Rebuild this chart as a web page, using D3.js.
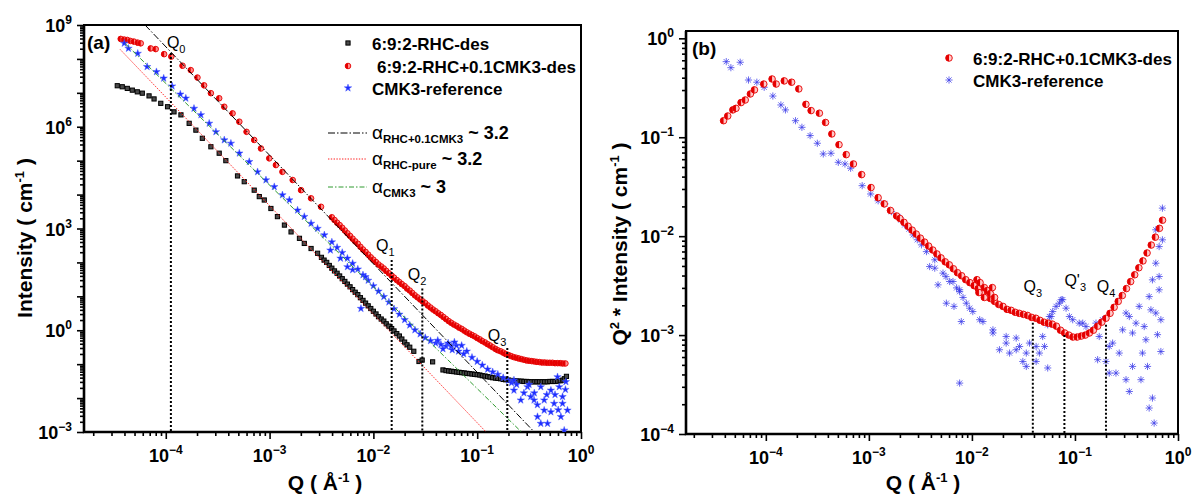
<!DOCTYPE html>
<html>
<head>
<meta charset="utf-8">
<script src="https://cdn.jsdelivr.net/npm/d3@7"></script>
<style>
  body { margin: 0; background: #fff; }
  svg { display: block; }
  text { font-family: "Liberation Sans", Arial, Helvetica, sans-serif; }
</style>
</head>
<body>
<script>
// ---------------- data ----------------
// (a) SANS/USANS intensity, pairs of [Q (1/Å), I (1/cm)]
const rhcDes = [
  [3.41e-5,1.62e7],[3.81e-5,1.51e7],[4.26e-5,1.35e7],[4.76e-5,1.20e7],[5.32e-5,1.07e7],[5.94e-5,9.77e6],
  [6.90e-5,8.13e6],[7.71e-5,6.61e6],[8.95e-5,4.90e6],[1.04e-4,3.89e6],[1.20e-4,2.75e6],[1.40e-4,2.24e6],
  [1.68e-4,1.26e6],[1.95e-4,7.94e5],[2.25e-4,4.57e5],[2.72e-4,2.57e5],[3.27e-4,1.66e5],[3.79e-4,1.0e5],
  [4.91e-4,3.55e4],[5.70e-4,2.40e4],[7.11e-4,1.35e4],[7.96e-4,8.71e3],[8.89e-4,6.92e3],[1.03e-3,3.89e3],
  [1.19e-3,2.24e3],[1.39e-3,1.26e3],[1.61e-3,794],[1.94e-3,513],[2.16e-3,363],[2.51e-3,257],[2.90e-3,186],
  [3.16e-3,141],[3.35e-3,117],[3.55e-3,100],[3.76e-3,81.3],[3.98e-3,67.6],[4.22e-3,56.2],[4.47e-3,47.9],
  [4.73e-3,39.8],[5.01e-3,33.1],[5.31e-3,27.5],[5.62e-3,22.9],[5.96e-3,19.1],[6.31e-3,15.8],[6.68e-3,13.2],
  [7.08e-3,11.2],[7.50e-3,9.12],[7.94e-3,7.59],[8.41e-3,6.31],[8.91e-3,5.25],[9.44e-3,4.37],[1.00e-2,3.63],
  [1.06e-2,3.02],[1.12e-2,2.51],[1.19e-2,2.14],[1.26e-2,1.86],[1.33e-2,1.55],[1.41e-2,1.32],[1.50e-2,1.12],
  [1.58e-2,0.955],[1.68e-2,0.794],[1.78e-2,0.676],[1.88e-2,0.550],[2.00e-2,0.447],[2.11e-2,0.372],
  [2.24e-2,0.316],[2.45e-2,0.240],[2.75e-2,0.120],[2.95e-2,0.132],[3.72e-2,0.117],
  [4.68e-2,0.0676],[5.01e-2,0.0646],[5.31e-2,0.0631],[5.62e-2,0.0617],[5.96e-2,0.0603],[6.31e-2,0.0589],
  [6.68e-2,0.0575],[7.08e-2,0.0562],[7.50e-2,0.0550],[7.94e-2,0.0537],[8.41e-2,0.0525],[8.91e-2,0.0513],
  [9.44e-2,0.0501],[0.100,0.0490],[0.106,0.0479],[0.112,0.0457],[0.119,0.0447],[0.126,0.0427],[0.133,0.0417],
  [0.141,0.0398],[0.150,0.0389],[0.158,0.0380],[0.168,0.0372],[0.178,0.0355],[0.188,0.0347],[0.200,0.0339],
  [0.211,0.0331],[0.224,0.0324],[0.237,0.0324],[0.251,0.0316],[0.266,0.0316],[0.282,0.0309],[0.299,0.0309],
  [0.316,0.0302],[0.335,0.0302],[0.355,0.0302],[0.376,0.0302],[0.398,0.0302],[0.422,0.0302],[0.447,0.0302],
  [0.473,0.0302],[0.501,0.0309],[0.531,0.0309],[0.562,0.0309],[0.596,0.0316],[0.631,0.0324],[0.668,0.0339],
  [0.692,0.0372],[0.724,0.0437]
];
const rhcCmk = [
  [3.68e-5,3.89e8],[3.98e-5,3.72e8],[4.26e-5,3.63e8],[4.57e-5,3.39e8],[4.94e-5,3.24e8],[5.37e-5,3.02e8],
  [5.74e-5,2.88e8],[7.16e-5,2.04e8],[8.00e-5,1.95e8],[9.64e-5,1.38e8],[1.13e-4,1.17e8],[1.45e-4,6.31e7],
  [1.74e-4,4.68e7],[2.02e-4,2.82e7],[2.34e-4,1.66e7],[2.72e-4,9.77e6],[3.27e-4,6.92e6],[3.66e-4,3.89e6],
  [4.40e-4,2.48e6],[5.11e-4,1.41e6],[6.00e-4,7.08e5],[7.11e-4,4.07e5],[8.26e-4,2.29e5],[9.93e-4,1.17e5],
  [1.15e-3,7.41e4],[1.33e-3,4.68e4],[1.67e-3,2.69e4],[2.01e-3,1.35e4],[2.51e-3,7.76e3],[3.13e-3,4.37e3],
  [3.98e-3,2.14e3],[4.22e-3,1.78e3],[4.47e-3,1.48e3],[4.73e-3,1.26e3],[5.01e-3,1.05e3],[5.31e-3,871],
  [5.62e-3,724],[5.96e-3,603],[6.31e-3,501],[6.68e-3,417],[7.08e-3,355],[7.50e-3,288],[7.94e-3,240],
  [8.41e-3,204],[8.91e-3,170],[9.44e-3,141],[1.00e-2,120],[1.06e-2,102],[1.12e-2,87.1],[1.19e-2,75.9],
  [1.26e-2,66.1],[1.33e-2,56.2],[1.41e-2,47.9],[1.50e-2,40.7],[1.58e-2,35.5],[1.68e-2,30.2],[1.78e-2,26.3],
  [1.88e-2,22.9],[2.00e-2,20.0],[2.11e-2,17.0],[2.24e-2,14.8],[2.37e-2,12.6],[2.51e-2,10.7],[2.66e-2,9.33],
  [2.82e-2,8.13],[2.99e-2,7.08],[3.16e-2,6.31],[3.35e-2,5.37],[3.55e-2,4.68],[3.76e-2,4.07],[3.98e-2,3.63],
  [4.22e-2,3.16],[4.47e-2,2.82],[4.73e-2,2.45],[5.01e-2,2.14],[5.31e-2,1.86],[5.62e-2,1.66],[5.96e-2,1.48],
  [6.31e-2,1.35],[6.68e-2,1.20],[7.08e-2,1.10],[7.50e-2,0.977],[7.94e-2,0.871],[8.41e-2,0.794],[8.91e-2,0.724],
  [9.44e-2,0.661],[0.100,0.589],[0.106,0.537],[0.112,0.479],[0.119,0.437],[0.126,0.389],[0.133,0.355],
  [0.141,0.316],[0.150,0.282],[0.158,0.257],[0.168,0.240],[0.178,0.219],[0.188,0.200],[0.200,0.186],
  [0.211,0.174],[0.224,0.162],[0.237,0.155],[0.251,0.148],[0.266,0.141],[0.282,0.135],[0.299,0.129],
  [0.316,0.126],[0.335,0.123],[0.355,0.120],[0.376,0.117],[0.398,0.115],[0.422,0.112],[0.447,0.112],
  [0.473,0.110],[0.501,0.110],[0.531,0.110],[0.562,0.107],[0.596,0.107],[0.631,0.107],[0.668,0.105],
  [0.708,0.105]
];
const cmkRef = [
  [3.98e-5,2.88e8],[4.37e-5,2.04e8],[5.37e-5,1.45e8],[6.61e-5,5.89e7],[8.13e-5,4.17e7],[9.55e-5,2.69e7],
  [1.15e-4,1.58e7],[1.38e-4,9.12e6],[1.56e-4,6.92e6],[1.87e-4,3.47e6],[2.18e-4,2.24e6],[2.62e-4,1.26e6],
  [3.04e-4,7.08e5],[3.66e-4,4.07e5],[4.24e-4,3.24e5],[5.11e-4,1.66e5],[6.37e-4,9.33e4],[7.66e-4,4.68e4],
  [9.23e-4,2.69e4],[1.11e-3,1.70e4],[1.33e-3,9.77e3],[1.55e-3,6.92e3],[1.86e-3,3.47e3],[2.16e-3,2.24e3],
  [2.51e-3,1.41e3],[2.90e-3,1.00e3],[3.37e-3,646],
  [3.98e-3,398],[4.47e-3,275],[5.01e-3,195],[5.62e-3,132],[6.31e-3,93.3],[7.08e-3,63.1],[7.94e-3,42.7],
  [8.91e-3,29.5],[1.00e-2,20.4],[1.12e-2,14.1],[1.26e-2,9.77],[1.41e-2,6.76],[1.58e-2,4.27],[1.78e-2,2.95],
  [2.00e-2,2.04],[2.24e-2,1.41],[2.51e-2,1.02],[2.82e-2,0.776],[3.16e-2,0.603],[3.55e-2,0.490],[3.98e-2,0.417],
  [4.47e-2,0.380],[5.01e-2,0.339],[5.62e-2,0.331],[6.31e-2,0.355],[7.08e-2,0.355],[7.94e-2,0.240],
  [8.91e-2,0.158],[0.100,0.120],[0.112,0.0933],[0.126,0.0708],[0.141,0.0589],[0.158,0.0501],[0.178,0.0398],
  [0.200,0.0331],
  [3.85e-3,229],[4.82e-3,132],[5.62e-3,74.1],[6.31e-3,60.3],[7.59e-3,4.37],[8.39e-3,37.6],
  [4.17e-2,0.501],[4.68e-2,0.282],[5.25e-2,0.417],[5.75e-2,0.263],[6.03e-2,0.447],[6.61e-2,0.240],[7.41e-2,0.200],
  [0.214,0.0282],[0.226,0.0170],[0.226,0.0339],[0.240,0.0251],[0.263,8.71e-3],[0.282,0.0141],[0.305,0.0214],
  [0.316,0.0251],[0.328,0.0110],[0.353,8.71e-3],[0.355,0.0141],[0.380,6.31e-3],[0.381,2.82e-3],[0.410,0.0214],
  [0.410,1.78e-3],[0.442,4.37e-3],[0.442,8.71e-3],[0.468,0.0126],[0.476,1.78e-3],[0.513,0.0170],[0.513,3.89e-3],
  [0.551,6.92e-3],[0.562,0.0126],[0.594,0.0422],[0.603,4.47e-3],[0.617,0.0214],[0.640,2.82e-3],[0.664,0.0110],
  [0.664,6.92e-3],[0.689,1.12e-3],[0.708,0.0178],[0.715,0.0302],[0.741,4.37e-3]
];

// power-law fits in (a): exponent, anchor point, Q range
const fitAlpha  = [3.2, 3.2, 3];
const fitQ0     = [6.31e-5, 3.63e-5, 4.07e-5];
const fitI0     = [1e9, 1.91e8, 2.82e8];
const fitQEnd   = [0.40, 0.13, 0.27];
const fitNames  = ["RHC+0.1CMK3", "RHC-pure", "CMK3"];
const fitColors = ["#000000", "#ff2020", "#2e9a2e"];

// characteristic Q positions in (a)
const qMarkA    = [1.12e-4, 0.015, 0.0296, 0.195];
const qMarkTopA = [1.5e8, 117, 17, 0.30];
const qMarkSubA = ["0", "1", "2", "3"];

// (b) Q²·I, pairs of [Q, Q²·I]
const q2RhcCmk = [
  [3.89e-5,0.147],[4.27e-5,0.164],[4.79e-5,0.189],[5.13e-5,0.196],[5.75e-5,0.224],[6.31e-5,0.238],
  [7.08e-5,0.274],[7.76e-5,0.301],[9.55e-5,0.345],[1.15e-4,0.388],[1.26e-4,0.345],[1.51e-4,0.371],
  [1.78e-4,0.360],[2.09e-4,0.308],[2.45e-4,0.215],[2.75e-4,0.186],[3.31e-4,0.175],[3.80e-4,0.141],
  [4.37e-4,0.108],[5.13e-4,0.0841],[6.03e-4,0.0667],[7.08e-4,0.0537],[8.51e-4,0.0419],[1.05e-3,0.0310],
  [1.23e-3,0.0245],[1.41e-3,0.0212],[1.62e-3,0.0182],[1.86e-3,0.0160],
  [2.00e-3,0.0151],[2.19e-3,0.0138],[2.40e-3,0.0126],[2.63e-3,0.0115],[2.88e-3,0.0105],[3.16e-3,9.55e-3],
  [3.47e-3,8.71e-3],[3.80e-3,7.94e-3],[4.17e-3,7.24e-3],[4.57e-3,6.61e-3],[5.01e-3,6.03e-3],[5.50e-3,5.50e-3],
  [6.03e-3,5.13e-3],[6.61e-3,4.68e-3],[7.24e-3,4.27e-3],[7.94e-3,3.98e-3],[8.71e-3,3.63e-3],[9.55e-3,3.39e-3],
  [1.05e-2,3.16e-3],[1.15e-2,2.95e-3],[1.26e-2,2.69e-3],[1.38e-2,2.45e-3],[1.51e-2,2.34e-3],[1.66e-2,2.19e-3],
  [1.82e-2,2.04e-3],[2.00e-2,1.95e-3],[2.19e-2,1.82e-3],[2.40e-2,1.78e-3],[2.63e-2,1.70e-3],[2.88e-2,1.66e-3],
  [3.16e-2,1.62e-3],[3.47e-2,1.58e-3],[3.80e-2,1.51e-3],[4.17e-2,1.48e-3],[4.57e-2,1.41e-3],[5.01e-2,1.35e-3],
  [5.50e-2,1.32e-3],[6.03e-2,1.29e-3],[6.61e-2,1.23e-3],[7.24e-2,1.12e-3],[7.94e-2,1.05e-3],[8.71e-2,1.00e-3],
  [9.55e-2,9.55e-4],[0.105,9.55e-4],[0.115,9.77e-4],[0.126,1.00e-3],[0.138,1.05e-3],[0.151,1.12e-3],
  [0.166,1.23e-3],[0.182,1.35e-3],[0.200,1.48e-3],[0.219,1.66e-3],[0.240,1.91e-3],[0.263,2.19e-3],
  [0.288,2.51e-3],[0.316,2.95e-3],[0.347,3.47e-3],[0.380,4.07e-3],[0.417,4.79e-3],[0.457,5.62e-3],
  [0.501,6.76e-3],[0.550,8.13e-3],[0.603,9.77e-3],[0.661,0.0120],[0.708,0.0145],
  [1.12e-2,3.63e-3],[1.20e-2,3.39e-3],[1.32e-2,3.02e-3],[1.41e-2,2.82e-3],[1.51e-2,2.63e-3],
  [1.58e-2,3.02e-3],[1.66e-2,2.40e-3],[1.17e-2,2.69e-3],[1.32e-2,2.40e-3]
];
const q2CmkRef = [
  [4.13e-5,0.581],[4.58e-5,0.505],[5.64e-5,0.573],[6.79e-5,0.379],[8.18e-5,0.360],[9.64e-5,0.320],
  [1.17e-4,0.261],[1.40e-4,0.212],[1.55e-4,0.189],[1.94e-4,0.147],[2.24e-4,0.126],[2.69e-4,0.104],
  [3.16e-4,0.0869],[3.61e-4,0.0678],[4.29e-4,0.0689],[5.05e-4,0.0558],[5.86e-4,0.0537],[6.65e-4,0.0486],
  [8.61e-4,0.0324],[1.04e-3,0.0267],[1.23e-3,0.0228],[1.43e-3,0.0212],[1.66e-3,0.0177],
  [1.92e-3,0.0158],[2.05e-3,0.0146],[2.23e-3,0.0130],[2.45e-3,0.0118],[2.69e-3,0.0103],[2.95e-3,9.2e-3],
  [3.24e-3,8.17e-3],[3.62e-3,6.98e-3],[3.89e-3,4.93e-3],[4.36e-3,5.77e-3],[4.36e-3,4.75e-3],[4.69e-3,3.22e-3],
  [5.24e-3,4.23e-3],[5.60e-3,3.90e-3],[5.65e-3,2.10e-3],[6.08e-3,3.48e-3],[6.55e-3,3.48e-3],[6.70e-3,1.95e-3],
  [7.10e-3,3.00e-3],[7.60e-3,2.87e-3],[7.60e-3,2.75e-3],[7.89e-3,1.37e-3],[8.20e-3,2.40e-3],[8.83e-3,2.10e-3],
  [9.51e-3,1.87e-3],[1.02e-2,1.73e-3],[1.19e-2,1.43e-3],[1.28e-2,1.37e-3],[1.60e-2,1.13e-3],[1.60e-2,1.05e-3],
  [1.85e-2,7.11e-4],[2.15e-2,9.68e-4],[2.15e-2,8.30e-4],[2.32e-2,6.58e-4],[2.69e-2,9.33e-4],[2.69e-2,7.11e-4],
  [2.90e-2,7.67e-4],[3.12e-2,5.41e-4],[3.37e-2,6.58e-4],[3.37e-2,4.82e-4],[3.62e-2,8.30e-4],[4.20e-2,7.67e-4],
  [4.20e-2,5.41e-4],[4.52e-2,6.58e-4],[4.86e-2,9.68e-4],[5.06e-2,7.67e-4],[5.44e-2,1.27e-3],[5.44e-2,4.65e-4],
  [5.65e-2,1.54e-3],[5.87e-2,1.54e-3],[6.08e-2,1.73e-3],[6.56e-2,1.95e-3],[7.06e-2,2.10e-3],[7.35e-2,2.28e-3],
  [7.60e-2,2.28e-3],[8.20e-2,1.87e-3],[8.83e-2,1.54e-3],[9.51e-2,1.43e-3],[0.110,1.32e-3],[0.119,1.32e-3],
  [0.128,1.22e-3],[0.148,1.13e-3],[0.160,1.32e-3],[0.166,5.64e-4],[0.172,9.68e-4],[0.185,1.43e-3],
  [0.200,5.41e-4],[0.215,7.67e-4],[0.215,4.13e-4],[0.232,8.30e-4],[0.250,4.13e-4],[0.269,6.58e-4],
  [0.290,1.13e-3],[0.313,1.67e-3],[0.313,3.54e-4],[0.337,1.54e-3],[0.337,2.69e-4],[0.362,1.05e-3],
  [0.362,4.82e-4],[0.391,1.32e-3],[0.420,1.95e-3],[0.437,3.54e-4],[0.452,6.58e-4],[0.470,1.22e-3],
  [0.488,8.97e-4],[0.506,4.82e-4],[0.525,2.45e-3],[0.525,1.83e-4],[0.546,1.80e-3],[0.565,3.62e-3],
  [0.565,2.31e-4],[0.587,1.29e-4],[0.609,5.33e-3],[0.609,0.0116],[0.609,1.67e-3],[0.632,1.01e-3],
  [0.656,7.85e-3],[0.656,2.87e-3],[0.656,3.91e-3],[0.682,6.82e-4],[0.682,1.43e-3],[0.706,0.0192],
  [0.706,9.18e-3],[7.60e-3,3.27e-4]
];

// characteristic Q positions in (b)
const qMarkB    = [0.039, 0.079, 0.2];
const qMarkTopB = [1.33e-3, 1.0e-3, 1.27e-3];
const qMarkSubB = ["3", "3", "4"];

// tick labels
const tickQ  = [1e-4, 1e-3, 1e-2, 1e-1, 1];
const tickIA = [1e-3, 1, 1e3, 1e6, 1e9];
const tickIB = [1e-4, 1e-3, 1e-2, 1e-1, 1];

const namesA = ["6:9:2-RHC-des", "6:9:2-RHC+0.1CMK3-des", "CMK3-reference"];
const namesB = ["6:9:2-RHC+0.1CMK3-des", "CMK3-reference"];

// ---------------- layout ----------------
const W = 1194, H = 496;
const svg = d3.select("body").append("svg").attr("width", W).attr("height", H);
svg.append("rect").attr("width", W).attr("height", H).attr("fill", "#fff");

const PA = {l: 84, r: 581, t: 25, b: 432};
const PB = {l: 686, r: 1178, t: 31, b: 434};

const xA = d3.scaleLog().domain([1.63e-5, 1]).range([PA.l, PA.r]);
const yA = d3.scaleLog().domain([1e-3, 1e9]).range([PA.b, PA.t]);
const xB = d3.scaleLog().domain([1.68e-5, 1]).range([PB.l, PB.r]);
const yB = d3.scaleLog().domain([1e-4, 1.186]).range([PB.b, PB.t]);

const defs = svg.append("defs");
function clipFor(id, P) {
  defs.append("clipPath").attr("id", id).append("rect")
    .attr("x", P.l).attr("y", P.t).attr("width", P.r - P.l).attr("height", P.b - P.t);
}
clipFor("clipA", PA);
clipFor("clipB", PB);

// ---------------- axes ----------------
function minorTicks(dom) {
  const out = [];
  for (let e = Math.floor(Math.log10(dom[0])); e < Math.ceil(Math.log10(dom[1])); e++)
    for (let k = 2; k <= 9; k++) {
      const v = k * Math.pow(10, e);
      if (v > dom[0] * 1.0001 && v < dom[1] * 0.9999) out.push(v);
    }
  return out;
}
function decadeTicks(dom) {
  const out = [];
  for (let e = Math.ceil(Math.log10(dom[0]) - 1e-9); e <= Math.floor(Math.log10(dom[1]) + 1e-9); e++)
    out.push(Math.pow(10, e));
  return out;
}
function styleAxis(g) {
  g.select(".domain").remove();
  g.selectAll("line").attr("stroke", "#000").attr("stroke-width", 1.6);
}
function powText(sel, v, subSize) {
  const e = Math.round(Math.log10(v));
  sel.append("tspan").text("10");
  sel.append("tspan").attr("dy", -8).attr("font-size", subSize)
    .text(e < 0 ? "\u2212" + (-e) : String(e));
}

function drawAxes(P, x, y, yLabels) {
  const g = svg.append("g");
  g.append("g").attr("transform", `translate(0,${P.b})`)
    .call(d3.axisBottom(x).tickValues(minorTicks(x.domain())).tickSize(4).tickFormat(""))
    .call(styleAxis);
  g.append("g").attr("transform", `translate(0,${P.b})`)
    .call(d3.axisBottom(x).tickValues(decadeTicks(x.domain())).tickSize(7).tickFormat(""))
    .call(styleAxis);
  g.append("g").attr("transform", `translate(${P.l},0)`)
    .call(d3.axisLeft(y).tickValues(minorTicks(y.domain())).tickSize(4).tickFormat(""))
    .call(styleAxis);
  g.append("g").attr("transform", `translate(${P.l},0)`)
    .call(d3.axisLeft(y).tickValues(decadeTicks(y.domain())).tickSize(7).tickFormat(""))
    .call(styleAxis);

  // frame
  g.append("rect").attr("x", P.l).attr("y", P.t).attr("width", P.r - P.l).attr("height", P.b - P.t)
    .attr("fill", "none").attr("stroke", "#000").attr("stroke-width", 2);
  g.append("path").attr("d", `M${P.l},${P.t}V${P.b}H${P.r}`)
    .attr("fill", "none").attr("stroke", "#000").attr("stroke-width", 2.6);

  // tick labels
  g.selectAll(null).data(tickQ).join("text")
    .attr("x", d => x(d)).attr("y", P.b + 30).attr("text-anchor", "middle")
    .attr("font-size", 18).attr("font-weight", "bold")
    .each(function (d) { powText(d3.select(this), d, 12); });
  g.selectAll(null).data(yLabels).join("text")
    .attr("x", P.l - 12).attr("y", d => y(d) + 7).attr("text-anchor", "end")
    .attr("font-size", 18).attr("font-weight", "bold")
    .each(function (d) { powText(d3.select(this), d, 12); });
}
drawAxes(PA, xA, yA, tickIA);
drawAxes(PB, xB, yB, tickIB);

// axis titles
function qTitle(cx) {
  const t = svg.append("text").attr("x", cx).attr("y", 490).attr("text-anchor", "middle")
    .attr("font-size", 21).attr("font-weight", "bold").style("white-space", "pre");
  t.append("tspan").text("Q ( \u00C5");
  t.append("tspan").attr("dy", -8).attr("font-size", 13).text("-1");
  t.append("tspan").attr("dy", 8).text(" )");
}
qTitle(325);
qTitle(923);

function yTitle(bx, cy, pre) {
  const t = svg.append("text").attr("transform", `translate(${bx},${cy}) rotate(-90)`)
    .attr("text-anchor", "middle").attr("font-size", 21).attr("font-weight", "bold")
    .style("white-space", "pre");
  pre(t);
  t.append("tspan").text("Intensity ( cm");
  t.append("tspan").attr("dy", -8).attr("font-size", 13).text("-1");
  t.append("tspan").attr("dy", 8).text(" )");
}
yTitle(32, 238, () => {});
yTitle(627, 244, t => {
  t.append("tspan").text("Q");
  t.append("tspan").attr("dy", -8).attr("font-size", 13).text("2");
  t.append("tspan").attr("dy", 8).text(" * ");
});

// panel tags
svg.append("text").attr("x", 87).attr("y", 49).attr("font-size", 19).attr("font-weight", "bold").text("(a)");
svg.append("text").attr("x", 692).attr("y", 55).attr("font-size", 19).attr("font-weight", "bold").text("(b)");

// ---------------- marker painters ----------------
function squares(g, data, x, y, s) {
  g.selectAll(null).data(data).join("rect")
    .attr("x", d => x(d[0]) - s / 2).attr("y", d => y(d[1]) - s / 2)
    .attr("width", s).attr("height", s)
    .attr("fill", "#4a4a4a").attr("stroke", "#000").attr("stroke-width", 1);
}
function halfDiscs(g, data, x, y, r, light) {
  const m = g.selectAll(null).data(data).join("g")
    .attr("transform", d => `translate(${x(d[0])},${y(d[1])})`);
  m.append("circle").attr("r", r).attr("fill", light).attr("stroke", "#e50000").attr("stroke-width", 0.9);
  m.append("path").attr("d", `M0,${-r}A${r},${r} 0 0 0 0,${r}Z`).attr("fill", "#e50000");
}
const starPath = d3.symbol(d3.symbolStar, 17)();
function stars(g, data, x, y) {
  g.selectAll(null).data(data).join("path")
    .attr("transform", d => `translate(${x(d[0])},${y(d[1])})`)
    .attr("d", starPath).attr("fill", "#1d2cff").attr("stroke", "#4a5cff").attr("stroke-width", 0.5);
}
const astPath = "M-3.6,0H3.6M0,-3.6V3.6M-2.6,-2.6L2.6,2.6M-2.6,2.6L2.6,-2.6";
function asterisks(g, data, x, y) {
  g.selectAll(null).data(data).join("path")
    .attr("transform", d => `translate(${x(d[0])},${y(d[1])})`)
    .attr("d", astPath).attr("fill", "none").attr("stroke", "#3b3be8")
    .attr("stroke-width", 1).attr("stroke-opacity", 0.75);
}

// ---------------- panel (a) ----------------
const gA = svg.append("g").attr("clip-path", "url(#clipA)");
squares(gA.append("g"), rhcDes, xA, yA, 4.2);
halfDiscs(gA.append("g"), rhcCmk, xA, yA, 2.8, "#ff8a8a");
stars(gA.append("g"), cmkRef, xA, yA);

const fitDash = ["7,2,1.5,2", "1.4,1.4", "5,2,1.5,2"];
const fitLine = d3.line().x(d => xA(d[0])).y(d => yA(d[1]));
fitAlpha.forEach((a, i) => {
  const pts = [fitQ0[i], fitQEnd[i]].map(q => [q, fitI0[i] * Math.pow(q / fitQ0[i], -a)]);
  gA.append("path").attr("d", fitLine(pts)).attr("fill", "none")
    .attr("stroke", fitColors[i]).attr("stroke-width", 1).attr("stroke-dasharray", fitDash[i]);
});

// dotted markers of characteristic Q
const gQA = svg.append("g");
qMarkA.forEach((q, i) => {
  gQA.append("line").attr("x1", xA(q)).attr("x2", xA(q)).attr("y1", yA(qMarkTopA[i])).attr("y2", PA.b)
    .attr("stroke", "#000").attr("stroke-width", 2).attr("stroke-dasharray", "2,2");
});
function qText(g, x, y, anchor, sub, prime) {
  const t = g.append("text").attr("x", x).attr("y", y).attr("text-anchor", anchor).attr("font-size", 16);
  t.append("tspan").text(prime ? "Q'" : "Q");
  t.append("tspan").attr("dy", 5).attr("font-size", 11).text(sub);
}
qText(gQA, xA(qMarkA[0]) - 4, 48, "start", qMarkSubA[0]);
qText(gQA, xA(qMarkA[1]) + 3, 251, "end", qMarkSubA[1]);
qText(gQA, xA(qMarkA[2]) + 4, 280, "end", qMarkSubA[2]);
qText(gQA, xA(qMarkA[3]) - 1, 341, "end", qMarkSubA[3]);

// legends (a)
const legA = svg.append("g");
const legYA = [43, 66, 88];
squares(legA.append("g"), [0], () => 348, () => legYA[0], 4.2);
halfDiscs(legA.append("g"), [0], () => 348, () => legYA[1], 2.8, "#ff8a8a");
stars(legA.append("g"), [0], () => 348, () => legYA[2]);
namesA.forEach((n, i) => {
  legA.append("text").attr("x", i === 1 ? 377 : 372).attr("y", legYA[i] + 7)
    .attr("font-size", 17).attr("font-weight", "bold").text(n);
});
const legFitY = [133, 159, 187];
fitNames.forEach((n, i) => {
  legA.append("line").attr("x1", 328).attr("x2", 367).attr("y1", legFitY[i]).attr("y2", legFitY[i])
    .attr("stroke", fitColors[i]).attr("stroke-width", 1).attr("stroke-dasharray", fitDash[i]);
  const t = legA.append("text").attr("x", 372).attr("y", legFitY[i] + 5.5).style("white-space", "pre");
  t.append("tspan").attr("font-size", 19).text("\u03B1");
  t.append("tspan").attr("dy", 4).attr("font-size", 11.5).attr("font-weight", "bold").text(n);
  t.append("tspan").attr("dy", -4).attr("font-size", 18).attr("font-weight", "bold").text(" ~ " + fitAlpha[i]);
});

// ---------------- panel (b) ----------------
const gB = svg.append("g").attr("clip-path", "url(#clipB)");
asterisks(gB.append("g"), q2CmkRef, xB, yB);
halfDiscs(gB.append("g"), q2RhcCmk, xB, yB, 3.3, "#ffc8c8");

const gQB = svg.append("g");
qMarkB.forEach((q, i) => {
  gQB.append("line").attr("x1", xB(q)).attr("x2", xB(q)).attr("y1", yB(qMarkTopB[i])).attr("y2", PB.b)
    .attr("stroke", "#000").attr("stroke-width", 2).attr("stroke-dasharray", "2,2");
});
qText(gQB, xB(qMarkB[0]), 292, "middle", qMarkSubB[0]);
qText(gQB, xB(qMarkB[1]), 286, "start", qMarkSubB[1], true);
qText(gQB, xB(qMarkB[2]), 292, "middle", qMarkSubB[2]);

const legB = svg.append("g");
const legYB = [58, 80];
halfDiscs(legB.append("g"), [0], () => 949, () => legYB[0], 3.3, "#ffc8c8");
asterisks(legB.append("g"), [0], () => 949, () => legYB[1]);
namesB.forEach((n, i) => {
  legB.append("text").attr("x", 973).attr("y", legYB[i] + 7)
    .attr("font-size", 17).attr("font-weight", "bold").text(n);
});
</script>
</body>
</html>
